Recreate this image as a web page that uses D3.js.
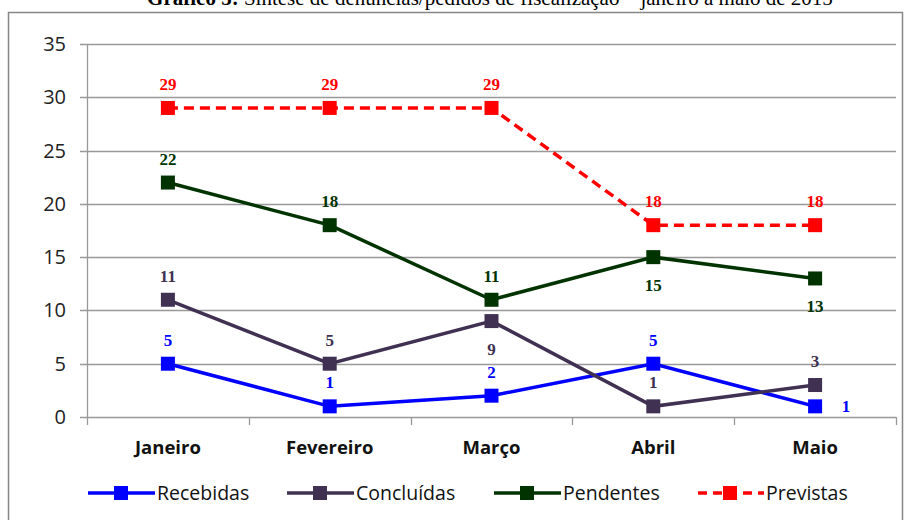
<!DOCTYPE html>
<html><head><meta charset="utf-8">
<script src="https://cdn.jsdelivr.net/npm/d3@7"></script>
<style>body{margin:0;background:#fff;}svg{display:block;}</style>
</head><body>
<svg id="c" width="907" height="520"></svg>
<script>
const categories = ["Janeiro","Fevereiro","Março","Abril","Maio"];
const recebidas = [5,1,2,5,1];
const concluidas = [11,5,9,1,3];
const pendentes = [22,18,11,15,13];
const previstas = [29,29,29,18,18];
const yTicks = [0,5,10,15,20,25,30,35];
const seriesNames = ["Recebidas","Concluídas","Pendentes","Previstas"];
// label placement per point: "a" above, "b" below, "r" right
const labelPos = [
  ["a","a","a","a","r"],
  ["a","a","b","a","a"],
  ["a","a","a","b","b"],
  ["a","a","a","a","a"]
];
const colors = ["#0000FF","#403152","#003300","#FF0000"];
const dashes = [null,null,null,"10,6"];

const svg = d3.select("#c");
const m = {l:87, r:896, t:44, b:417};
const x = d3.scaleBand().domain(categories).range([m.l, m.r]);
const y = d3.scaleLinear().domain([0,35]).range([m.b, m.t]);
const sans = "'Open Sans', 'Liberation Sans'";

// title (partly cut off, as in reference)
svg.append("text").attr("x",490).attr("y",5).attr("text-anchor","middle")
  .style("font-family","Liberation Serif").style("font-size","21px")
  .html('<tspan font-weight="bold">Gráfico 5:</tspan> Síntese de denúncias/pedidos de fiscalização – janeiro a maio de 2015');

// outer border
svg.append("rect").attr("x",8.5).attr("y",12.5).attr("width",894).attr("height",520)
  .attr("fill","none").attr("stroke","#868686").attr("stroke-width",1.5);

// gridlines
svg.append("g").selectAll("line").data(yTicks).join("line")
  .attr("x1",m.l-7).attr("x2",m.r).attr("y1",d=>Math.round(y(d))+0.5).attr("y2",d=>Math.round(y(d))+0.5)
  .attr("stroke","#999").attr("stroke-width",1.3);
// y axis line
svg.append("line").attr("x1",m.l+0.5).attr("x2",m.l+0.5).attr("y1",m.t).attr("y2",m.b+0.5)
  .attr("stroke","#999").attr("stroke-width",1.3);
// y tick labels
svg.append("g").selectAll("text").data(yTicks).join("text")
  .attr("x",66).attr("y",d=>y(d)+7).attr("text-anchor","end")
  .style("font-family",sans).style("font-size","20px").attr("fill","#222")
  .text(d=>d);
// x category ticks
const bounds = categories.map(c=>x(c)).concat([m.r]);
svg.append("g").selectAll("line").data(bounds).join("line")
  .attr("x1",d=>Math.round(d)+0.5).attr("x2",d=>Math.round(d)+0.5).attr("y1",m.b).attr("y2",m.b+8)
  .attr("stroke","#999").attr("stroke-width",1.3);
svg.append("g").selectAll("text").data(categories).join("text")
  .attr("x",d=>x(d)+x.bandwidth()/2).attr("y",454).attr("text-anchor","middle")
  .style("font-family",sans).style("font-size","18.5px").style("font-weight","bold").attr("fill","#111")
  .text(d=>d);

const allSeries = [recebidas, concluidas, pendentes, previstas];
const cx = c => x(c)+x.bandwidth()/2;
const line = d3.line().x(d=>cx(d.c)).y(d=>y(d.v));

allSeries.forEach((vals,i)=>{
  const pts = vals.map((v,j)=>({c:categories[j],v,p:labelPos[i][j]}));
  const g = svg.append("g");
  g.append("path").datum(pts).attr("d",line).attr("fill","none")
    .attr("stroke",colors[i]).attr("stroke-width",3.5).attr("stroke-dasharray",dashes[i]);
  g.selectAll("rect").data(pts).join("rect")
    .attr("x",d=>cx(d.c)-7).attr("y",d=>y(d.v)-7).attr("width",14).attr("height",14).attr("fill",colors[i]);
  g.selectAll("text").data(pts).join("text")
    .attr("x",d=>d.p==="r"?cx(d.c)+31:cx(d.c))
    .attr("y",d=>d.p==="a"?y(d.v)-18:(d.p==="b"?y(d.v)+34:y(d.v)+6))
    .attr("text-anchor","middle")
    .style("font-family","Liberation Serif").style("font-size","17px").style("font-weight","bold")
    .attr("fill",colors[i]).text(d=>d.v);
});

// legend
const legX = [88, 287, 494, 697];
const lg = svg.append("g");
seriesNames.forEach((n,i)=>{
  lg.append("line").attr("x1",legX[i]).attr("x2",legX[i]+67).attr("y1",493).attr("y2",493)
    .attr("stroke",colors[i]).attr("stroke-width",3.5).attr("stroke-dasharray",dashes[i]?"9,6":null)
    .attr("stroke-dashoffset",dashes[i]?-1:null);
  lg.append("rect").attr("x",legX[i]+33-7).attr("y",486).attr("width",14).attr("height",14).attr("fill",colors[i]);
  lg.append("text").attr("x",legX[i]+69).attr("y",500)
    .style("font-family",sans).style("font-size","19.5px").attr("fill","#111").text(n);
});
</script>
</body></html>
